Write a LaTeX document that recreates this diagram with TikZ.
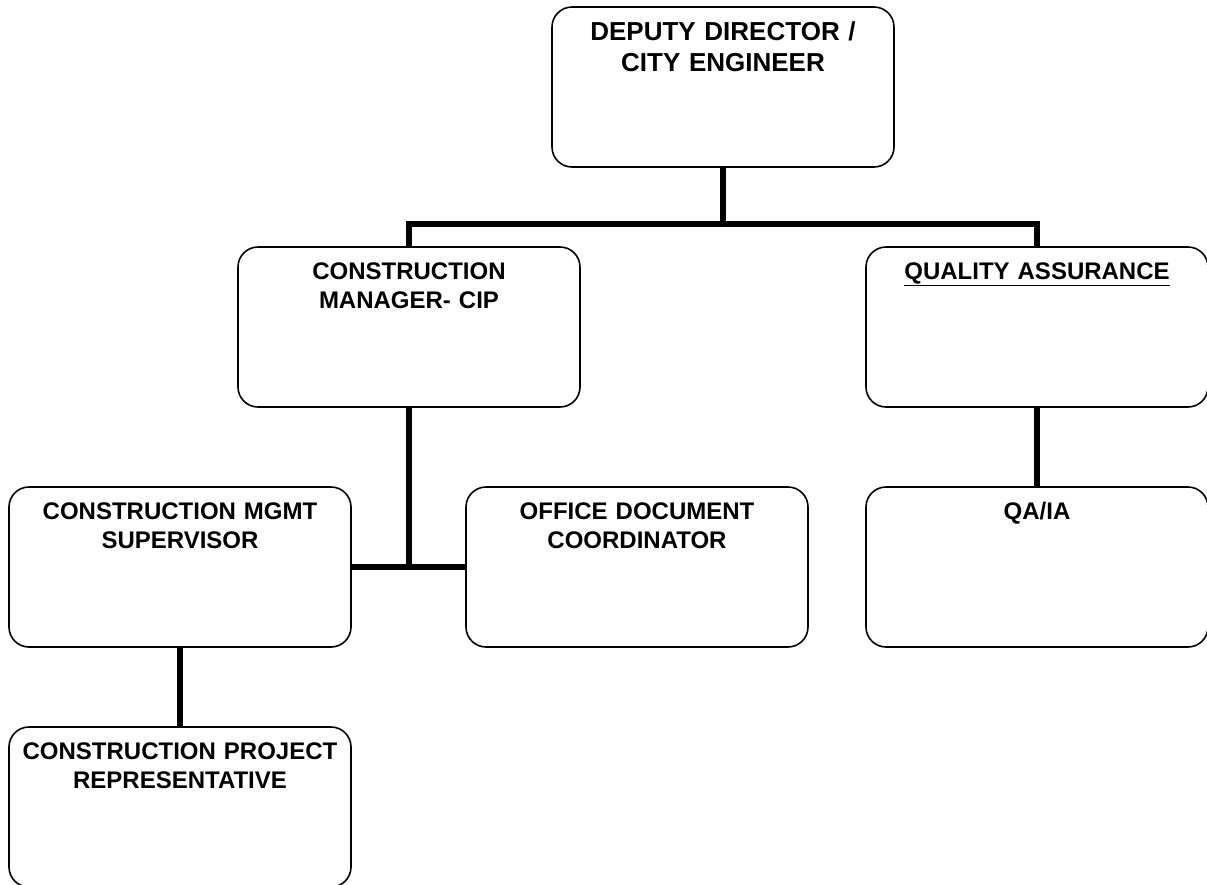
\documentclass[tikz,border=0pt]{standalone}
\usepackage{fontspec}
\setmainfont{Liberation Sans}
\usepackage{tikz}
\usetikzlibrary{positioning,calc}
\tikzset{
  orgbox/.style={draw, line width=1.6pt, rounded corners=20pt, fill=white,
                 inner sep=0pt, align=center, text width=342pt,
                 text height=32pt, text depth=128pt,
                 font=\fontsize{24}{29}\selectfont\bfseries},
  orglink/.style={line width=6pt, line join=miter},
}

\begin{document}
\begin{tikzpicture}[x=1pt, y=-1pt]
    \useasboundingbox (0,0) rectangle (1207,884);
    % links first, boxes on top
    \coordinate (bus) at (723,224);
    \coordinate (cmjoin) at (409,567);
    \node[orgbox, font=\fontsize{26}{31}\selectfont\bfseries,
          text height=33pt, text depth=127pt] (dd) at (723,87) {DEPUTY DIRECTOR /\\CITY ENGINEER};
    \node[orgbox] (cm) at (409,327) {CONSTRUCTION\\MANAGER- CIP};
    \node[orgbox] (qa) at (1037,327) {\underline{QUALITY ASSURANCE}};
    \node[orgbox] (sup) at (180,567) {CONSTRUCTION MGMT\\SUPERVISOR};
    \node[orgbox] (odc) at (637,567) {OFFICE DOCUMENT\\COORDINATOR};
    \node[orgbox] (qaia) at (1037,567) {QA/IA};
    \node[orgbox] (cpr) at (180,807) {CONSTRUCTION PROJECT\\REPRESENTATIVE};
    \draw[orglink] (dd.south) -- (bus);
    \draw[orglink] (cm.north) |- (bus) -| (qa.north);
    \draw[orglink] (cm.south) -- (cmjoin);
    \draw[orglink] (sup.east) -- (odc.west);
    \draw[orglink] (qa.south) -- (qaia.north);
    \draw[orglink] (sup.south) -- (cpr.north);
\end{tikzpicture}
\end{document}
